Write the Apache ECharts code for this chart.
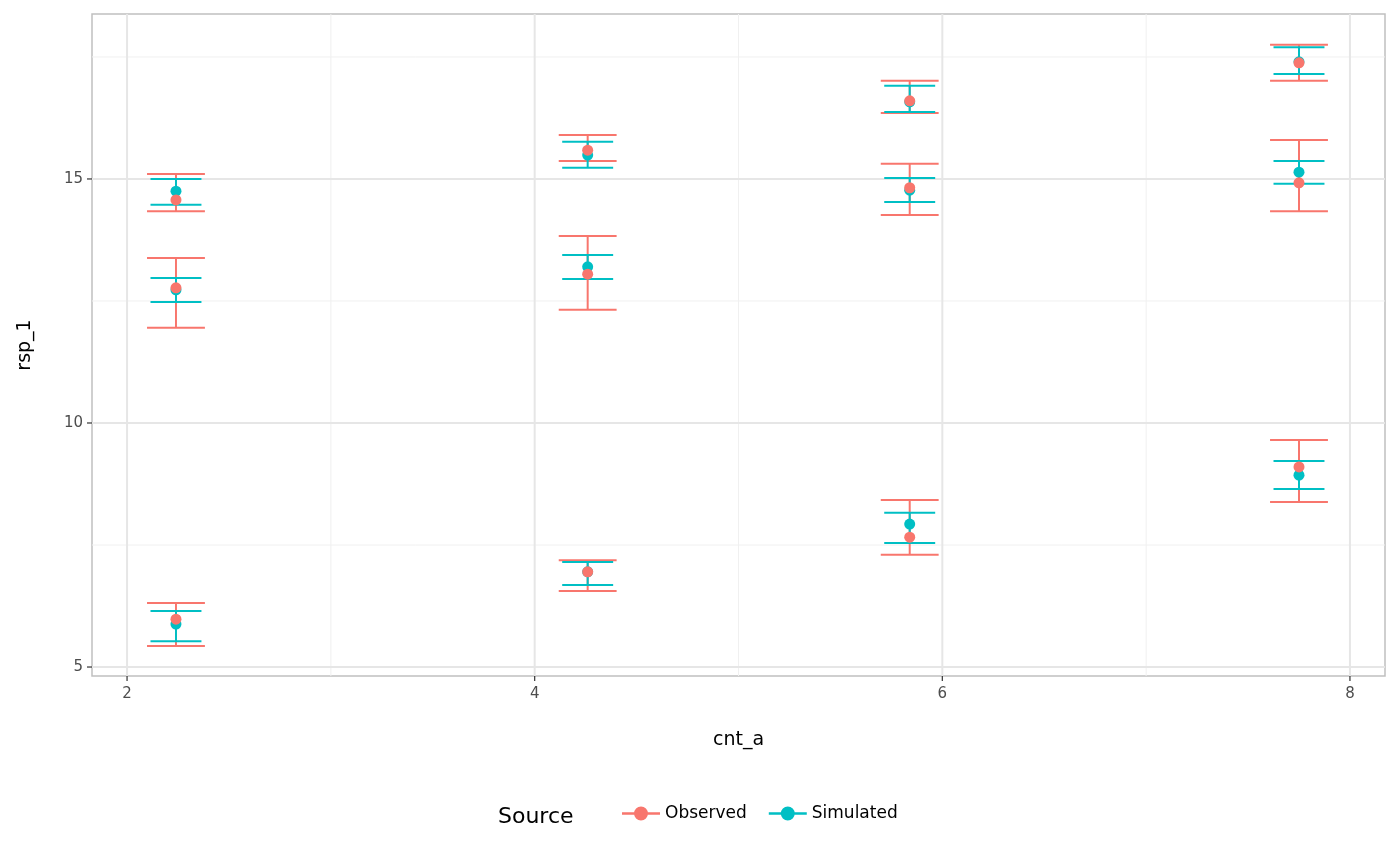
<!DOCTYPE html>
<html><head><meta charset="utf-8">
<script src="https://cdn.jsdelivr.net/npm/echarts@6/dist/echarts.min.js"></script>
<style>html,body{margin:0;padding:0;background:#fff}#c{width:1400px;height:865px}</style>
</head><body><div id="c"></div>
<script>
const xPos = [2.24, 2.24, 2.24, 4.26, 4.26, 4.26, 5.84, 5.84, 5.84, 7.75, 7.75, 7.75];
const obsY  = [14.57, 12.77, 5.98, 15.59, 13.05, 6.95, 16.60, 14.82, 7.66, 17.38, 14.92, 9.10];
const obsLo = [14.34, 11.95, 5.43, 15.37, 12.32, 6.56, 16.35, 14.26, 7.30, 17.01, 14.34, 8.38];
const obsHi = [15.10, 13.38, 6.31, 15.90, 13.83, 7.19, 17.01, 15.31, 8.42, 17.75, 15.80, 9.65];
const simY  = [14.75, 12.73, 5.88, 15.49, 13.20, 6.95, 16.58, 14.77, 7.93, 17.40, 15.14, 8.93];
const simLo = [14.47, 12.48, 5.53, 15.23, 12.95, 6.68, 16.37, 14.53, 7.54, 17.15, 14.90, 8.65];
const simHi = [15.00, 12.97, 6.15, 15.76, 13.44, 7.15, 16.91, 15.02, 8.16, 17.70, 15.37, 9.22];
const xMajor = [2, 4, 6, 8], xMinor = [3, 5, 7];
const yMajor = [5, 10, 15], yMinor = [7.5, 12.5, 17.5];
const X_MIN = 1.828, X_MAX = 8.172, Y_MIN = 4.816, Y_MAX = 18.38;
const RED = '#F8766D', CYAN = '#00BFC4';

const chart = echarts.init(document.getElementById('c'));
function errSeries(name, color, ys, lo, hi, half) {
  return {
    name, type: 'custom', z: 3,
    itemStyle: {color},
    data: xPos.map((x, i) => [x, lo[i], hi[i]]),
    renderItem(params, api) {
      const x = api.value(0), l = api.value(1), h = api.value(2);
      const pL = api.coord([x, l]), pH = api.coord([x, h]);
      const a = api.coord([x - half, l]), b = api.coord([x + half, l]);
      const st = {stroke: color, lineWidth: 2, fill: null};
      return {type: 'group', children: [
        {type: 'line', shape: {x1: pL[0], y1: pL[1], x2: pH[0], y2: pH[1]}, style: st},
        {type: 'line', shape: {x1: a[0], y1: pL[1], x2: b[0], y2: pL[1]}, style: st},
        {type: 'line', shape: {x1: a[0], y1: pH[1], x2: b[0], y2: pH[1]}, style: st}
      ]};
    }
  };
}
function gridSeries(vals, dir, color, width, tick) {
  return {
    type: 'custom', silent: true, z: 1, legendHoverLink: false, clip: false,
    data: vals.map(v => [v]),
    renderItem(params, api) {
      const v = api.value(0);
      const ch = [];
      const ts = {fill: '#4d4d4d', fontSize: 15, fontFamily: 'DejaVu Sans', text: String(v)};
      if (dir === 'x') {
        const p1 = api.coord([v, Y_MIN]), p2 = api.coord([v, Y_MAX]);
        ch.push({type: 'line', shape: {x1: p1[0], y1: p1[1], x2: p2[0], y2: p2[1]}, style: {stroke: color, lineWidth: width}});
        if (tick) {
          ch.push({type: 'line', shape: {x1: p1[0], y1: p1[1], x2: p1[0], y2: p1[1] + 5}, style: {stroke: '#333', lineWidth: 1.2}});
          ch.push({type: 'text', x: p1[0], y: p1[1] + 11, style: Object.assign({align: 'center', verticalAlign: 'top'}, ts)});
        }
      } else {
        const p1 = api.coord([X_MIN, v]), p2 = api.coord([X_MAX, v]);
        ch.push({type: 'line', shape: {x1: p1[0], y1: p1[1], x2: p2[0], y2: p2[1]}, style: {stroke: color, lineWidth: width}});
        if (tick) {
          ch.push({type: 'line', shape: {x1: p1[0] - 5, y1: p1[1], x2: p1[0], y2: p1[1]}, style: {stroke: '#333', lineWidth: 1.2}});
          ch.push({type: 'text', x: p1[0] - 9, y: p1[1], style: Object.assign({align: 'right', verticalAlign: 'middle'}, ts)});
        }
      }
      return {type: 'group', children: ch};
    }
  };
}
const legendIcon = 'path://M0,9 L30,9 L30,11 L0,11 Z M20.5,10 A5.5,5.5 0 1 1 9.5,10 A5.5,5.5 0 1 1 20.5,10 Z';
chart.setOption({
  animation: false,
  grid: {left: 92, right: 15, top: 14, bottom: 189, show: true, borderColor: '#c0c0c0', borderWidth: 1.5, backgroundColor: '#fff'},
  xAxis: {type: 'value', min: X_MIN, max: X_MAX,
    name: 'cnt_a', nameLocation: 'middle', nameGap: 55, nameTextStyle: {fontSize: 19, color: '#000', fontFamily: 'DejaVu Sans'},
    axisLine: {show: false}, axisTick: {show: false}, splitLine: {show: false}, axisLabel: {show: false}},
  yAxis: {type: 'value', min: Y_MIN, max: Y_MAX,
    name: 'rsp_1', nameLocation: 'middle', nameGap: 57, nameTextStyle: {fontSize: 19, color: '#000', fontFamily: 'DejaVu Sans'},
    axisLine: {show: false}, axisTick: {show: false}, splitLine: {show: false}, axisLabel: {show: false}},
  legend: {bottom: 38, left: 617, itemWidth: 38, itemHeight: 20, itemGap: 22,
    textStyle: {fontSize: 17, color: '#000', fontFamily: 'DejaVu Sans'},
    data: [{name: 'Observed', icon: legendIcon, itemStyle: {color: RED}}, {name: 'Simulated', icon: legendIcon, itemStyle: {color: CYAN}}]},
  graphic: [{type: 'text', left: 498, bottom: 37, style: {text: 'Source', fontSize: 22, fill: '#000', fontFamily: 'DejaVu Sans'}}],
  series: [
    gridSeries(xMinor, 'x', '#f0f0f0', 1, false),
    gridSeries(yMinor, 'y', '#f0f0f0', 1, false),
    gridSeries(xMajor, 'x', '#e6e6e6', 2, true),
    gridSeries(yMajor, 'y', '#e6e6e6', 2, true),
    errSeries('Observed', RED, obsY, obsLo, obsHi, 0.142),
    errSeries('Simulated', CYAN, simY, simLo, simHi, 0.125),
    {name: 'Simulated', type: 'scatter', z: 4, symbolSize: 11, itemStyle: {color: CYAN, opacity: 1}, data: xPos.map((x, i) => [x, simY[i]])},
    {name: 'Observed', type: 'scatter', z: 5, symbolSize: 11, itemStyle: {color: RED, opacity: 1}, data: xPos.map((x, i) => [x, obsY[i]])}
  ]
});
</script></body></html>
